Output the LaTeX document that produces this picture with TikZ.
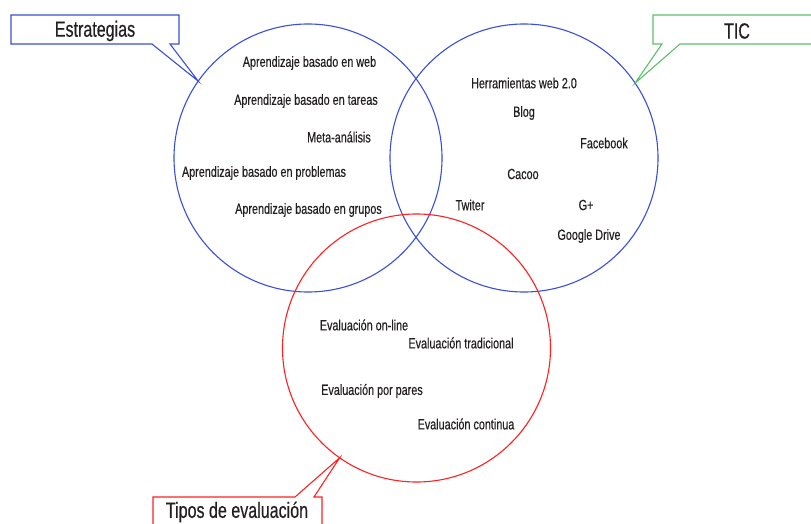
\documentclass[tikz,border=0pt]{standalone}
\usepackage{fontspec}
\setmainfont[FakeStretch=0.73, FakeBold=0.4]{Liberation Sans}
\definecolor{cblue}{HTML}{3A4FD9}
\definecolor{cgreen}{HTML}{5CBF6A}
\definecolor{cred}{HTML}{FF2020}
\definecolor{ctext}{HTML}{231F20}
\tikzset{
  venn/.style={circle, draw, line width=1.1pt, minimum size=268pt, inner sep=0pt, outer sep=0pt},
  lbl/.style={text=ctext, font=\fontsize{14.8}{16}\selectfont, inner sep=0pt, anchor=center},
  callout/.style={line width=1.1pt, fill=white, line join=miter},
  ctitle/.style={text=ctext, font=\fontsize{22}{24}\selectfont, inner sep=0pt, anchor=center}
}
\begin{document}
\begin{tikzpicture}[x=1pt, y=-1pt]
\useasboundingbox (0,0) rectangle (811,524);
\clip (0,0) rectangle (811,524);
% circles
\node[venn, draw=cblue] (estr) at (308,158) {};
\node[venn, draw=cblue] (tic) at (524,158) {};
\node[venn, draw=cred] (eval) at (416.5,348) {};
% callouts
\coordinate (tE) at (estr.145.6);
\coordinate (tT) at (tic.34.2);
\coordinate (tV) at (eval.235.4);
\draw[callout, draw=cblue] (11,15) -- (179,15) -- (179,44) -- (170,44) -- (tE) -- (152,44) -- (11,44) -- cycle;
\draw[callout, draw=cgreen] (653,15) -- (820,15) -- (820,44) -- (680,44) -- (tT) -- (662,44) -- (653,44) -- cycle;
\draw[callout, draw=cred] (153,530) -- (153,497) -- (295,497) -- (tV) -- (314,497) -- (322,497) -- (322,530);
\node[ctitle] (tEstr) at (95,31) {Estrategias};
\node[ctitle] (tTic) at (737,31) {TIC};
\node[ctitle] (tEval) at (237,512) {Tipos de evaluación};
% Estrategias
\node[lbl] (e1) at (309.5,63) {Aprendizaje basado en web};
\node[lbl] (e2) at (306,101) {Aprendizaje basado en tareas};
\node[lbl] (e3) at (339,137) {Meta-análisis};
\node[lbl] (e4) at (264,173) {Aprendizaje basado en problemas};
\node[lbl] (e5) at (308.5,210) {Aprendizaje basado en grupos};
% TIC
\node[lbl] (t1) at (524,83) {Herramientas web 2.0};
\node[lbl] (t2) at (524,113) {Blog};
\node[lbl] (t3) at (604,143) {Facebook};
\node[lbl] (t4) at (523,174) {Cacoo};
\node[lbl] (t5) at (470,205) {Twiter};
\node[lbl] (t6) at (586,205) {G+};
\node[lbl] (t7) at (589,236) {Google Drive};
% Evaluacion
\node[lbl] (v1) at (364,325) {Evaluación on-line};
\node[lbl] (v2) at (461,343) {Evaluación tradicional};
\node[lbl] (v3) at (372,391) {Evaluación por pares};
\node[lbl] (v4) at (466,424) {Evaluación continua};
\end{tikzpicture}
\end{document}
